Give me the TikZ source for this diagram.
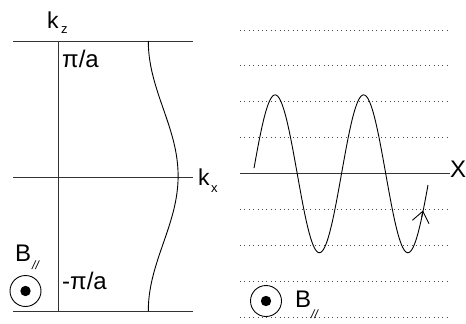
\documentclass[tikz,border=0pt]{standalone}
\usepackage{fontspec}
\setmainfont{Liberation Sans}
\usetikzlibrary{arrows.meta}
\begin{document}
\begin{tikzpicture}[x=1pt,y=-1pt,
  axis/.style={line width=0.9pt,draw=black!80},
  curve/.style={line width=0.9pt,black},
  dotline/.style={line width=0.9pt,draw=black!70,dash pattern=on 0.9pt off 3.5pt},
  lbl/.style={inner sep=0pt,anchor=base west,font=\fontsize{23}{23}\selectfont},
  pil/.style={inner sep=0pt,anchor=base west,font=\fontsize{24}{24}\selectfont},
  big/.style={inner sep=0pt,anchor=base west,font=\fontsize{24}{24}\selectfont},
  sub/.style={inner sep=0pt,anchor=base west,font=\fontsize{13}{13}\selectfont},
  par/.style={inner sep=0pt,anchor=base west,font=\fontsize{12}{12}\selectfont\itshape},
  bring/.style={line width=0.9pt,draw=black},
  bdot/.style={fill=black}]
\useasboundingbox (0,0) rectangle (466,324);
% ---------- left panel ----------
\coordinate (tl) at (13,41); \coordinate (tr) at (193,41);
\coordinate (ml) at (13,177); \coordinate (mr) at (193,177);
\coordinate (bl) at (13,311); \coordinate (br) at (193,311);
\coordinate (vt) at (58,41); \coordinate (vb) at (58,311);
\draw[axis] (tl) -- (tr);
\draw[axis] (ml) -- (mr);
\draw[axis] (bl) -- (br);
\draw[axis] (vt) -- (vb);
\draw[curve] plot[domain=41:311,samples=120,smooth] ({163.2-14.9*cos(1.33333*(\x-41))},\x);
\node[lbl] (kz) at (47,28) {k};
\node[sub] (kzs) at (61,34) {z};
\node[lbl] (kx) at (198,185) {k};
\node[sub] (kxs) at (211,192) {x};
\node[pil] (pa) at (62,67) {π/a};
\node[pil] (mpa) at (62,289) {-π/a};
\node[big] (bl1) at (15,261) {B};
\node[par] (bl1s) at (32,269) {//};
\draw[bring] (25.5,291) circle (15.5);
\fill[bdot] (25.5,291) circle (5.2);
% ---------- right panel ----------
\foreach \yy in {30,65.8,101.6,137.4,209.6,245.4,281.2,317}
  \draw[dotline] (240,\yy) -- (451,\yy);
\coordinate (xl) at (240,173.7); \coordinate (xr) at (450,173.7);
\draw[axis] (xl) -- (xr);
\node[big] (X) at (450,177) {X};
\draw[curve] plot[domain=254:428,samples=200,smooth] (\x,{173.8-78.9*sin(4.06780*(\x-253))});
\coordinate (ah) at (423,210.5);
\draw[curve,-{Straight Barb[length=11pt,width=17pt,line width=0.9pt]}] (421.6,217.4) -- (ah);
\draw[bring] (266,301) circle (15.5);
\fill[bdot] (266,301) circle (5.2);
\node[big] (br1) at (295,307) {B};
\node[par] (br1s) at (311,318) {//};
\end{tikzpicture}
\end{document}
